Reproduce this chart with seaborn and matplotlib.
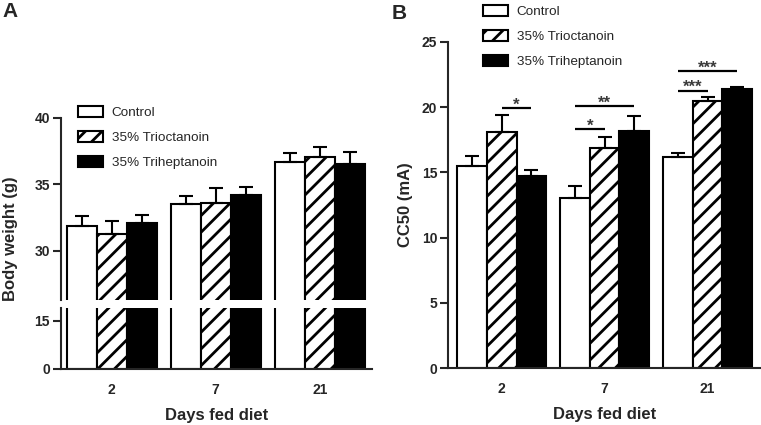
import numpy as np
import pandas as pd
import matplotlib
matplotlib.use("Agg")
import matplotlib.pyplot as plt
import seaborn as sns
from matplotlib.patches import Patch
from matplotlib.container import BarContainer

# ---------------- data ----------------
days = ["2", "7", "21"]
diets = ["Control", "35% Trioctanoin", "35% Triheptanoin"]

bw_control = [31.9, 33.5, 36.7]
bw_trioct = [31.3, 33.6, 37.1]
bw_trihep = [32.1, 34.2, 36.5]
bw_control_err = [0.70, 0.65, 0.65]
bw_trioct_err = [0.95, 1.13, 0.75]
bw_trihep_err = [0.63, 0.63, 0.95]

cc_control = [15.5, 13.0, 16.15]
cc_trioct = [18.06, 16.88, 20.45]
cc_trihep = [14.71, 18.18, 21.37]
cc_control_err = [0.77, 0.95, 0.30]
cc_trioct_err = [1.30, 0.84, 0.28]
cc_trihep_err = [0.46, 1.15, 0.15]

# significance annotations for panel B
sig_day = [0, 1, 1, 2, 2]
sig_from = [1, 0, 0, 0, 0]
sig_to = [2, 1, 2, 1, 2]
sig_y = [19.9, 18.3, 20.1, 21.25, 22.75]
sig_label = ["*", "*", "**", "***", "***"]

colors = {"Control": "white", "35% Trioctanoin": "white", "35% Triheptanoin": "black"}
hatches = ["", "//", ""]

# ---------------- style ----------------
sns.set_style("ticks")
plt.rcParams["font.family"] = ["Liberation Sans", "DejaVu Sans"]
plt.rcParams["font.weight"] = "bold"
plt.rcParams["hatch.linewidth"] = 2.0
plt.rcParams["axes.linewidth"] = 1.5

W, H = 761, 425
fig = plt.figure(figsize=(W / 100, H / 100), dpi=100)


def fr(x0, y0, x1, y1):
    """pixel box (top-left origin) -> figure fraction rect"""
    return [x0 / W, 1 - y1 / H, (x1 - x0) / W, (y1 - y0) / H]


def draw(ax, means, errs, show_err=True):
    df = pd.DataFrame({
        "day": np.tile(days, 3),
        "diet": np.repeat(diets, 3),
        "value": np.concatenate(means),
    })
    sns.barplot(data=df, x="day", y="value", hue="diet", order=days,
                hue_order=diets, palette=colors, saturation=1,
                edgecolor="black", linewidth=1.5, width=0.865, gap=0,
                errorbar=None, legend=False, ax=ax)
    conts = [c for c in ax.containers if isinstance(c, BarContainer)]
    centers = []
    for i, cont in enumerate(conts):
        bars = sorted(cont.patches, key=lambda p: p.get_x())
        xs = [b.get_x() + b.get_width() / 2 for b in bars]
        ys = [b.get_height() for b in bars]
        centers.append(xs)
        for b in bars:
            b.set_hatch(hatches[i])
        if show_err:
            ax.errorbar(xs, ys, yerr=[np.zeros(len(ys)), errs[i]], fmt="none",
                        ecolor="black", elinewidth=1.5, capsize=5, capthick=1.5,
                        zorder=1)
    ax.set_xlabel("")
    ax.set_ylabel("")
    return centers


def style(ax):
    ax.tick_params(axis="y", length=6, width=1.5, labelsize=10, pad=2)
    ax.tick_params(axis="x", length=0, labelsize=10, pad=10)
    for s in ["top", "right"]:
        ax.spines[s].set_visible(False)


# ---------------- panel A (broken axis) ----------------
A_xlim = (-0.4875, 2.503)
axA_top = fig.add_axes(fr(61, 118, 372, 300))
axA_bot = fig.add_axes(fr(61, 308, 372, 369))
for ax in (axA_top, axA_bot):
    draw(ax, [bw_control, bw_trioct, bw_trihep],
         [bw_control_err, bw_trioct_err, bw_trihep_err], show_err=(ax is axA_top))
    style(ax)
    ax.set_xlim(*A_xlim)

axA_top.set_ylim(26.3, 40)
axA_top.set_yticks([30, 35, 40])
axA_top.spines["bottom"].set_visible(False)
axA_top.tick_params(axis="x", bottom=False, labelbottom=False)

axA_bot.set_ylim(0, 19)
axA_bot.set_yticks([0, 15])
axA_bot.set_xlabel("Days fed diet", fontsize=12, fontweight="bold", labelpad=8)

fig.text(10.5 / W, 1 - 239 / H, "Body weight (g)", rotation=90, ha="center",
         va="center", fontsize=12, fontweight="bold")

# ---------------- panel B ----------------
axB = fig.add_axes(fr(448.3, 41.7, 761, 368.3))
cB = draw(axB, [cc_control, cc_trioct, cc_trihep],
          [cc_control_err, cc_trioct_err, cc_trihep_err])
style(axB)
axB.set_xlim(-0.52, 2.52)
axB.set_ylim(0, 25)
axB.set_yticks([0, 5, 10, 15, 20, 25])
axB.set_xlabel("Days fed diet", fontsize=12, fontweight="bold", labelpad=8)
axB.set_ylabel("CC50 (mA)", fontsize=12, fontweight="bold", labelpad=6)

for d, i, j, y, lab in zip(sig_day, sig_from, sig_to, sig_y, sig_label):
    x0, x1 = cB[i][d], cB[j][d]
    axB.plot([x0, x1], [y, y], color="black", lw=1.6, solid_capstyle="butt",
             clip_on=False)
    axB.text((x0 + x1) / 2, y - 0.35, lab, ha="center", va="bottom",
             fontsize=12, fontweight="bold", color="#3a3a3a")

# ---------------- legends ----------------
handles = [Patch(facecolor=colors[d], edgecolor="black", hatch=h, linewidth=1.5)
           for d, h in zip(diets, hatches)]
leg_kw = dict(loc="upper left", frameon=False, handlelength=1.85,
              handleheight=0.9, handletextpad=0.65, labelspacing=0.88,
              borderpad=0, borderaxespad=0,
              prop={"size": 9.7, "weight": "normal"})
fig.legend(handles, diets, bbox_to_anchor=(78 / W, 1 - 106 / H), **leg_kw)
fig.legend(handles, diets, bbox_to_anchor=(483 / W, 1 - 5 / H), **leg_kw)

# ---------------- panel letters ----------------
fig.text(2 / W, 1 - 2 / H, "A", fontsize=15, fontweight="bold", ha="left", va="top")
fig.text(392 / W, 1 - 4 / H, "B", fontsize=15, fontweight="bold", ha="left", va="top")

fig.savefig("out.png", dpi=100)
